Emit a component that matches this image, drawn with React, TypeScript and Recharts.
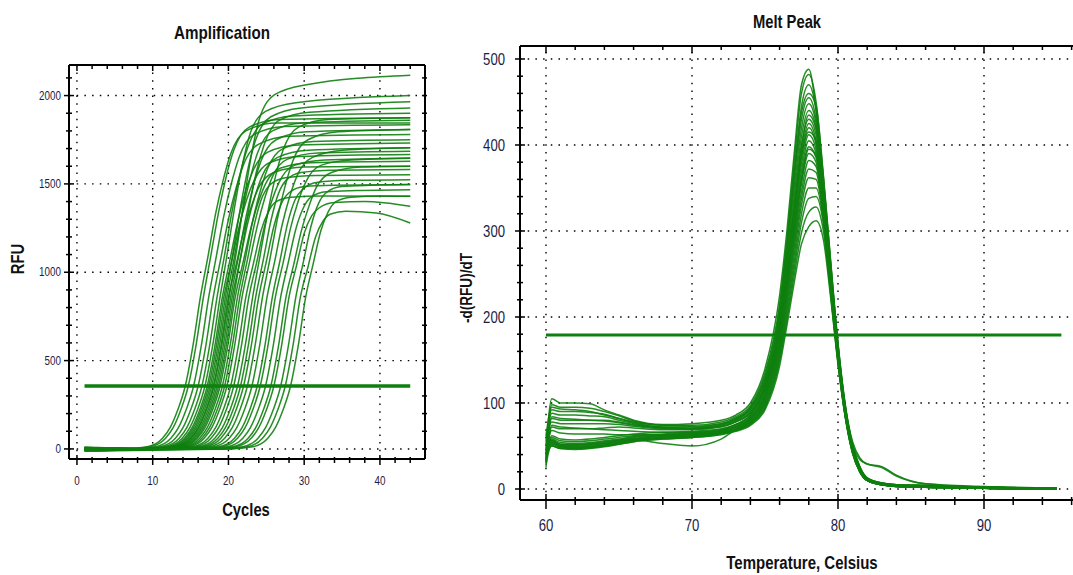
import React from 'react';
import { LineChart, Line, XAxis, YAxis, ReferenceLine } from 'recharts';

const FONT = '"Liberation Sans", Arial, sans-serif';
const NARROW = 0.82;
const GREEN = '#0e800e';
const TICK_COLOR = '#1c1c44';

// Amplification wells: [cycle, RFU] points
const ampCurvesEarly: number[][][] = [
  [[1,-8],[6.3,0],[9.3,12],[11.3,60],[12.3,120],[13.3,220],[14.3,356],[15.3,580],[16.3,860],[17.3,1090],[18.3,1330],[19.3,1520],[20.3,1670],[22.3,1800],[26.3,1845],[44,1845]],
  [[1,5],[6.7,0],[9.7,12],[11.7,60],[12.7,120],[13.7,220],[14.7,356],[15.7,580],[16.7,860],[17.7,1100],[18.7,1340],[19.7,1540],[20.7,1690],[22.7,1820],[26.7,1865],[44,1875]],
  [[1,-4],[7.4,0],[10.4,12],[12.4,60],[13.4,120],[14.4,220],[15.4,356],[16.4,580],[17.4,860],[18.4,1090],[19.4,1320],[20.4,1505],[21.4,1650],[23.4,1780],[27.4,1825],[44,1835]],
  [[1,10],[8,0],[11,12],[13,60],[14,120],[15,220],[16,356],[17,580],[18,860],[19,1080],[20,1300],[21,1475],[22,1610],[24,1725],[28,1770],[44,1780]],
  [[1,-12],[8.5,0],[11.5,12],[13.5,60],[14.5,120],[15.5,220],[16.5,356],[17.5,580],[18.5,860],[19.5,1100],[20.5,1350],[21.5,1550],[22.5,1700],[24.5,1840],[28.5,1885],[44,1900]],
  [[1,2],[8.9,0],[11.9,12],[13.9,60],[14.9,120],[15.9,220],[16.9,356],[17.9,580],[18.9,860],[19.9,1120],[20.9,1390],[21.9,1620],[22.9,1790],[24.9,1910],[28.9,1960],[44,2000]],
  [[1,-6],[9.2,0],[12.2,12],[14.2,60],[15.2,120],[16.2,220],[17.2,356],[18.2,580],[19.2,860],[20.2,1070],[21.2,1280],[22.2,1450],[23.2,1570],[25.2,1680],[29.2,1720],[44,1732]],
  [[1,7],[9.4,0],[12.4,12],[14.4,60],[15.4,120],[16.4,220],[17.4,356],[18.4,580],[19.4,860],[20.4,1055],[21.4,1255],[22.4,1410],[23.4,1520],[25.4,1620],[29.4,1655],[44,1666]],
  [[1,-10],[9.6,0],[12.6,12],[14.6,60],[15.6,120],[16.6,220],[17.6,356],[18.6,580],[19.6,860],[20.6,1110],[21.6,1370],[22.6,1590],[23.6,1750],[25.6,1880],[29.6,1930],[44,1965]],
  [[1,4],[9.8,0],[12.8,12],[14.8,60],[15.8,120],[16.8,220],[17.8,356],[18.8,580],[19.8,860],[20.8,1090],[21.8,1330],[22.8,1520],[23.8,1670],[25.8,1800],[29.8,1845],[44,1860]],
];

const ampCurvesMid: number[][][] = [
  [[1,-3],[10,0],[13,12],[15,60],[16,120],[17,220],[18,356],[19,580],[20,860],[21,1040],[22,1230],[23,1370],[24,1480],[26,1565],[30,1595],[44,1600]],
  [[1,8],[10.1,0],[13.1,12],[15.1,60],[16.1,120],[17.1,220],[18.1,356],[19.1,580],[20.1,860],[21.1,1130],[22.1,1420],[23.1,1680],[24.1,1870],[26.1,2005],[30.1,2060],[44,2115]],
  [[1,-7],[10.3,0],[13.3,12],[15.3,60],[16.3,120],[17.3,220],[18.3,356],[19.3,580],[20.3,860],[21.3,1080],[22.3,1310],[23.3,1490],[24.3,1630],[26.3,1750],[30.3,1795],[44,1808]],
  [[1,3],[10.5,0],[13.5,12],[15.5,60],[16.5,120],[17.5,220],[18.5,356],[19.5,580],[20.5,860],[21.5,1060],[22.5,1270],[23.5,1430],[24.5,1550],[26.5,1650],[30.5,1690],[44,1704]],
  [[1,-5],[10.7,0],[13.7,12],[15.7,60],[16.7,120],[17.7,220],[18.7,356],[19.7,580],[20.7,860],[21.7,1110],[22.7,1360],[23.7,1570],[24.7,1720],[26.7,1860],[30.7,1905],[44,1930]],
  [[1,6],[10.9,0],[13.9,12],[15.9,60],[16.9,120],[17.9,220],[18.9,356],[19.9,580],[20.9,860],[21.9,1050],[22.9,1240],[23.9,1390],[24.9,1500],[26.9,1590],[30.9,1620],[44,1628]],
  [[1,-9],[11.2,0],[14.2,12],[16.2,60],[17.2,120],[18.2,220],[19.2,356],[20.2,580],[21.2,860],[22.2,1070],[23.2,1290],[24.2,1460],[25.2,1590],[27.2,1700],[31.2,1740],[44,1750]],
  [[1,1],[11.5,0],[14.5,12],[16.5,60],[17.5,120],[18.5,220],[19.5,356],[20.5,580],[21.5,860],[22.5,1070],[23.5,1285],[24.5,1430],[25.5,1495],[27.5,1535],[31.5,1548],[44,1552]],
  [[1,-2],[11.8,0],[14.8,12],[16.8,60],[17.8,120],[18.8,220],[19.8,356],[20.8,580],[21.8,860],[22.8,1060],[23.8,1260],[24.8,1420],[25.8,1540],[27.8,1640],[31.8,1675],[44,1685]],
  [[1,9],[12.3,0],[15.3,12],[17.3,60],[18.3,120],[19.3,220],[20.3,356],[21.3,580],[22.3,860],[23.3,1050],[24.3,1235],[25.3,1345],[26.3,1400],[28.3,1425],[32.3,1432],[44,1430]],
  [[1,-11],[12.7,0],[15.7,12],[17.7,60],[18.7,120],[19.7,220],[20.7,356],[21.7,580],[22.7,860],[23.7,1050],[24.7,1250],[25.7,1400],[26.7,1510],[28.7,1605],[32.7,1635],[44,1647]],
  [[1,4],[13.2,0],[16.2,12],[18.2,60],[19.2,120],[20.2,220],[21.2,356],[22.2,580],[23.2,860],[24.2,1100],[25.2,1340],[26.2,1540],[27.2,1690],[29.2,1820],[33.2,1865],[44,1875]],
];

const ampCurvesLate: number[][][] = [
  [[1,-4],[13.6,0],[16.6,12],[18.6,60],[19.6,120],[20.6,220],[21.6,356],[22.6,580],[23.6,860],[24.6,1070],[25.6,1290],[26.6,1445],[27.6,1520],[29.6,1565],[33.6,1578],[44,1581]],
  [[1,7],[14,0],[17,12],[19,60],[20,120],[21,220],[22,356],[23,580],[24,860],[25,1060],[26,1260],[27,1390],[28,1450],[30,1485],[34,1492],[44,1496]],
  [[1,-6],[14.5,0],[17.5,12],[19.5,60],[20.5,120],[21.5,220],[22.5,356],[23.5,580],[24.5,860],[25.5,1080],[26.5,1310],[27.5,1490],[28.5,1630],[30.5,1750],[34.5,1795],[44,1808]],
  [[1,2],[15.1,0],[18.1,12],[20.1,60],[21.1,120],[22.1,220],[23.1,356],[24.1,580],[25.1,860],[26.1,1060],[27.1,1270],[28.1,1430],[29.1,1550],[31.1,1650],[35.1,1690],[44,1704]],
  [[1,-8],[15.8,0],[18.8,12],[20.8,60],[21.8,120],[22.8,220],[23.8,356],[24.8,580],[25.8,860],[26.8,1065],[27.8,1275],[28.8,1410],[29.8,1470],[31.8,1510],[35.8,1520],[44,1524]],
  [[1,5],[16.2,0],[19.2,12],[21.2,60],[22.2,120],[23.2,220],[24.2,356],[25.2,580],[26.2,860],[27.2,1050],[28.2,1250],[29.2,1400],[30.2,1510],[32.2,1605],[36.2,1635],[44,1645]],
  [[1,-3],[16.9,0],[19.9,12],[21.9,60],[22.9,120],[23.9,220],[24.9,356],[25.9,580],[26.9,860],[27.9,1055],[28.9,1245],[29.9,1365],[30.9,1425],[32.9,1455],[36.9,1462],[44,1467]],
  [[1,6],[17.6,0],[20.6,12],[22.6,60],[23.6,120],[24.6,220],[25.6,356],[26.6,580],[27.6,860],[28.6,1040],[29.6,1230],[30.6,1370],[31.6,1480],[33.6,1565],[37.6,1595],[44,1600]],
  [[1,-5],[18,0],[21,12],[23,60],[24,120],[25,220],[26,356],[27,580],[28,860],[29,1040],[30,1220],[31,1320],[32,1365],[34,1395],[38,1400],[44,1373]],
  [[1,3],[18.9,0],[21.9,12],[23.9,60],[24.9,120],[25.9,220],[26.9,356],[27.9,580],[28.9,860],[29.9,1060],[30.9,1260],[31.9,1390],[32.9,1450],[34.9,1485],[38.9,1492],[44,1496]],
  [[1,-10],[19.5,0],[22.5,12],[24.5,60],[25.5,120],[26.5,220],[27.5,356],[28.5,580],[29.5,860],[30.5,1030],[31.5,1200],[32.5,1290],[33.5,1330],[35.5,1345],[39.5,1335],[44,1279]],
  [[1,4],[20.2,0],[23.2,12],[25.2,60],[26.2,120],[27.2,220],[28.2,356],[29.2,580],[30.2,860],[31.2,1050],[32.2,1235],[33.2,1345],[34.2,1400],[36.2,1425],[40.2,1432],[44,1430]],
];

const ampThreshold = 356;
const ampThresholdCycles = [1, 44];
const cycleTicks = [0, 2, 4, 6, 8, 10, 12, 14, 16, 18, 20, 22, 24, 26, 28, 30, 32, 34, 36, 38, 40, 42, 44];
const rfuTicks = [0, 100, 200, 300, 400, 500, 600, 700, 800, 900, 1000, 1100, 1200, 1300, 1400, 1500, 1600, 1700, 1800, 1900, 2000, 2100];
const cycleGrid = [0, 10, 20, 30, 40];
const rfuGrid = [0, 500, 1000, 1500, 2000];

// Melt peak: -d(RFU)/dT at each temperature
const meltTemps = [60, 60.4, 61, 62, 63, 64, 65, 66, 68, 70, 72, 73, 74, 75, 76, 76.5, 77, 77.5, 78, 78.5, 79, 79.5, 80, 80.5, 81, 81.5, 82, 83, 84, 86, 90, 95];

const meltCurvesUpper: number[][] = [
  [45, 105, 100, 100, 99, 92, 86, 80, 75, 76, 80, 86, 100, 140, 225, 300, 390, 470, 488, 440, 350, 255, 165, 95, 50, 25, 13, 7, 5, 4, 2, 1],
  [40, 98, 95, 95, 94, 90, 85, 79, 74, 74, 78, 84, 97, 135, 215, 290, 380, 460, 482, 450, 365, 265, 170, 98, 52, 26, 13, 7, 5, 4, 2, 1],
  [55, 92, 90, 90, 89, 87, 82, 77, 72, 72, 76, 82, 95, 132, 210, 285, 370, 445, 470, 440, 360, 262, 168, 96, 50, 25, 12, 7, 5, 4, 2, 1],
  [50, 88, 86, 86, 85, 84, 80, 76, 72, 71, 75, 81, 93, 128, 205, 275, 360, 430, 455, 430, 355, 258, 165, 94, 49, 24, 12, 6, 5, 3, 2, 1],
  [35, 82, 80, 80, 80, 80, 78, 75, 71, 70, 74, 80, 92, 125, 200, 270, 350, 420, 448, 425, 350, 255, 165, 95, 55, 36, 29, 26, 16, 6, 3, 1],
  [60, 78, 76, 76, 76, 76, 75, 73, 70, 70, 73, 79, 90, 122, 195, 262, 340, 410, 440, 420, 345, 250, 160, 92, 48, 24, 12, 6, 4, 3, 2, 1],
  [30, 72, 70, 70, 70, 71, 72, 71, 69, 69, 72, 78, 88, 120, 190, 255, 330, 400, 430, 412, 340, 248, 160, 92, 47, 23, 11, 6, 4, 3, 2, 1],
  [62, 95, 93, 92, 90, 86, 82, 78, 74, 73, 76, 82, 94, 128, 205, 278, 365, 438, 460, 445, 362, 262, 168, 96, 50, 25, 12, 7, 5, 4, 2, 1],
  [33, 84, 82, 81, 80, 79, 77, 74, 71, 70, 73, 78, 89, 120, 190, 255, 325, 388, 415, 405, 338, 246, 158, 90, 46, 22, 11, 6, 4, 3, 2, 1],
  [25, 74, 72, 71, 70, 69, 68, 67, 66, 66, 69, 75, 86, 118, 188, 252, 326, 398, 435, 418, 342, 248, 160, 92, 47, 23, 11, 6, 4, 3, 2, 1],
];

const meltCurvesLower: number[][] = [
  [38, 62, 58, 57, 58, 60, 62, 64, 66, 67, 70, 75, 86, 118, 188, 250, 322, 392, 425, 405, 335, 245, 158, 90, 46, 22, 11, 6, 4, 3, 2, 0],
  [42, 60, 56, 55, 56, 58, 60, 62, 64, 66, 69, 74, 84, 115, 185, 248, 318, 385, 420, 400, 332, 243, 157, 90, 46, 22, 11, 6, 4, 3, 1, 0],
  [48, 58, 54, 53, 54, 56, 58, 61, 63, 65, 68, 73, 83, 113, 182, 244, 312, 378, 412, 395, 330, 242, 156, 89, 45, 22, 11, 6, 4, 3, 1, 0],
  [52, 57, 52, 52, 53, 55, 57, 60, 62, 64, 67, 72, 82, 110, 178, 240, 306, 370, 405, 390, 328, 240, 155, 88, 45, 21, 10, 5, 4, 3, 1, 0],
  [34, 56, 51, 51, 52, 54, 57, 59, 62, 64, 67, 72, 81, 108, 175, 236, 300, 362, 398, 385, 325, 238, 154, 87, 44, 21, 10, 5, 4, 3, 1, 0],
  [58, 55, 50, 50, 51, 53, 56, 58, 61, 63, 66, 71, 80, 106, 172, 230, 292, 355, 390, 380, 322, 236, 152, 86, 44, 21, 10, 5, 4, 2, 1, 0],
  [45, 54, 50, 49, 50, 52, 55, 58, 60, 62, 66, 70, 79, 104, 168, 225, 286, 346, 382, 375, 320, 235, 151, 86, 43, 20, 10, 5, 3, 2, 1, 0],
  [28, 52, 49, 48, 49, 51, 54, 57, 53, 50, 58, 69, 78, 102, 164, 220, 280, 338, 372, 368, 318, 234, 150, 85, 43, 20, 10, 5, 3, 2, 1, 0],
  [50, 53, 49, 48, 49, 51, 53, 56, 59, 61, 65, 69, 77, 100, 160, 214, 272, 330, 362, 360, 315, 232, 149, 85, 43, 20, 10, 5, 3, 2, 1, 0],
  [40, 56, 52, 51, 52, 53, 55, 57, 60, 62, 65, 69, 77, 98, 156, 208, 264, 320, 350, 350, 312, 230, 150, 90, 52, 34, 29, 25, 15, 6, 2, 0],
  [55, 51, 48, 47, 48, 50, 53, 56, 59, 61, 64, 68, 76, 96, 152, 202, 256, 310, 338, 340, 308, 228, 148, 84, 42, 20, 10, 5, 3, 2, 1, 0],
  [36, 50, 47, 47, 48, 50, 52, 55, 58, 60, 64, 68, 75, 94, 148, 196, 248, 298, 322, 328, 300, 226, 147, 84, 42, 20, 10, 5, 3, 2, 1, 0],
  [47, 50, 47, 46, 47, 49, 52, 55, 58, 60, 63, 67, 74, 92, 143, 190, 240, 285, 305, 312, 290, 222, 145, 83, 41, 20, 10, 5, 3, 2, 1, 0],
  [44, 68, 65, 64, 64, 64, 63, 63, 63, 64, 67, 72, 82, 110, 176, 236, 300, 360, 395, 388, 328, 240, 155, 88, 44, 21, 10, 5, 4, 3, 1, 0],
];

const meltThreshold = 179;
const meltThresholdTemps = [60, 95.3];
const tempTicks = [60, 62, 64, 66, 68, 70, 72, 74, 76, 78, 80, 82, 84, 86, 88, 90, 92, 94, 96];
const dfTicks = [0, 20, 40, 60, 80, 100, 120, 140, 160, 180, 200, 220, 240, 260, 280, 300, 320, 340, 360, 380, 400, 420, 440, 460, 480, 500];
const tempGrid = [60, 70, 80, 90];
const dfGrid = [0, 100, 200, 300, 400, 500];

const ampSeries = [...ampCurvesEarly, ...ampCurvesMid, ...ampCurvesLate].map((c) => c.map(([x, y]) => ({ x, y })));
const meltSeries = [...meltCurvesUpper, ...meltCurvesLower].map((vals) => vals.map((y, i) => ({ x: meltTemps[i], y })));
const ampThresholdData = ampThresholdCycles.map((x) => ({ x, y: ampThreshold }));
const meltThresholdData = meltThresholdTemps.map((x) => ({ x, y: meltThreshold }));

const axisLine = { stroke: '#000', strokeWidth: 2 };
const gridProps = { stroke: '#000', strokeWidth: 1.4, strokeDasharray: '1.5 6.2' };

// narrow tick label: Liberation Sans squeezed horizontally
const TickText = ({ x, y, size, anchor, children }: any) => (
  <text transform={`translate(${x} ${y}) scale(${NARROW} 1)`} textAnchor={anchor} fontSize={size}
    fontFamily={FONT} fill={TICK_COLOR}>
    {children}
  </text>
);

// tick renderers: tickSize/tickMargin are 0, so x,y sit on the axis line
const ampBottomTick = ({ x, y, payload }: any) => {
  const major = payload.value % 10 === 0;
  return (
    <g>
      <line x1={x} x2={x} y1={y - (major ? 4 : 2)} y2={y + (major ? 6 : 4)} stroke="#000" strokeWidth={1.5} />
      {major && <TickText x={x} y={y + 26} size={12} anchor="middle">{payload.value}</TickText>}
    </g>
  );
};
const ampTopTick = ({ x, y, payload }: any) => {
  const major = payload.value % 10 === 0;
  return <line x1={x} x2={x} y1={y} y2={y + (major ? 6 : 4)} stroke="#000" strokeWidth={1.5} />;
};
const ampLeftTick = ({ x, y, payload }: any) => {
  const major = payload.value % 500 === 0;
  return (
    <g>
      <line x1={x - (major ? 5 : 3)} x2={x + (major ? 5 : 3)} y1={y} y2={y} stroke="#000" strokeWidth={1.5} />
      {major && <TickText x={x - 8} y={y + 4} size={12} anchor="end">{payload.value}</TickText>}
    </g>
  );
};
const ampRightTick = ({ x, y }: any) => (
  <line x1={x - 3} x2={x + 2} y1={y} y2={y} stroke="#000" strokeWidth={1.5} />
);

const meltBottomTick = ({ x, y, payload }: any) => {
  const major = payload.value % 10 === 0;
  return (
    <g>
      <line x1={x} x2={x} y1={y - (major ? 6 : 3)} y2={y + (major ? 9 : 5)} stroke="#000" strokeWidth={1.5} />
      {major && <TickText x={x} y={y + 31} size={16} anchor="middle">{payload.value}</TickText>}
    </g>
  );
};
const meltTopTick = ({ x, y, payload }: any) => {
  const major = payload.value % 10 === 0;
  return <line x1={x} x2={x} y1={y} y2={y + (major ? 7 : 4)} stroke="#000" strokeWidth={1.5} />;
};
const meltLeftTick = ({ x, y, payload }: any) => {
  const major = payload.value % 100 === 0;
  return (
    <g>
      <line x1={x - (major ? 5 : 3)} x2={x + (major ? 5 : 3)} y1={y} y2={y} stroke="#000" strokeWidth={1.5} />
      {major && <TickText x={x - 15} y={y + 6} size={16} anchor="end">{payload.value}</TickText>}
    </g>
  );
};

const label = (left: number, top: number, size: number, text: string, rotate = false) => (
  <div
    style={{
      position: 'absolute',
      left,
      top,
      transform: `translate(-50%, -50%)${rotate ? ' rotate(-90deg)' : ''} scaleX(${NARROW})`,
      fontFamily: FONT,
      fontWeight: 'bold',
      fontSize: size,
      lineHeight: 1,
      color: '#111',
      whiteSpace: 'nowrap',
    }}
  >
    {text}
  </div>
);

const App: React.FC = () => {
  return (
    <div style={{ position: 'absolute', left: 0, top: 0, width: 1073, height: 575, overflow: 'hidden', background: '#fff' }}>
      {/* Amplification */}
      <div style={{ position: 'absolute', left: 0, top: 0 }}>
        <LineChart width={440} height={575} margin={{ top: 64, right: 14, bottom: 115, left: 68 }}>
          <XAxis dataKey="x" type="number" domain={[-1.05, 45.95]} allowDataOverflow ticks={cycleTicks} interval={0}
            height={1} tickSize={0} tickMargin={0} tickLine={false} axisLine={axisLine} tick={ampBottomTick} />
          <XAxis xAxisId="top" orientation="top" dataKey="x" type="number" domain={[-1.05, 45.95]} allowDataOverflow ticks={cycleTicks}
            interval={0} height={1} tickSize={0} tickMargin={0} tickLine={false} axisLine={axisLine} tick={ampTopTick} />
          <YAxis type="number" domain={[-57, 2173]} allowDataOverflow ticks={rfuTicks} interval={0}
            width={1} tickSize={0} tickMargin={0} tickLine={false} axisLine={axisLine} tick={ampLeftTick} />
          <YAxis yAxisId="right" orientation="right" type="number" domain={[-57, 2173]} allowDataOverflow ticks={rfuTicks}
            interval={0} width={1} tickSize={0} tickMargin={0} tickLine={false} axisLine={axisLine} tick={ampRightTick} />
          {cycleGrid.map((v) => <ReferenceLine key={'cx' + v} x={v} {...gridProps} />)}
          {rfuGrid.map((v) => <ReferenceLine key={'cy' + v} y={v} {...gridProps} />)}
          {ampSeries.map((pts, i) => (
            <Line key={'a' + i} data={pts} dataKey="y" type="monotone" stroke={GREEN} strokeWidth={1.5}
              strokeOpacity={0.9} dot={false} activeDot={false} isAnimationActive={false} />
          ))}
          <Line data={ampThresholdData} dataKey="y" stroke={GREEN} strokeWidth={3.5} dot={false} activeDot={false}
            isAnimationActive={false} />
        </LineChart>
      </div>

      {/* Melt Peak */}
      <div style={{ position: 'absolute', left: 440, top: 0 }}>
        <LineChart width={650} height={575} margin={{ top: 45, right: 0, bottom: 74, left: 79 }}>
          <XAxis dataKey="x" type="number" domain={[58.22, 97.26]} allowDataOverflow ticks={tempTicks} interval={0}
            height={1} tickSize={0} tickMargin={0} tickLine={false} axisLine={axisLine} tick={meltBottomTick} />
          <XAxis xAxisId="top" orientation="top" dataKey="x" type="number" domain={[58.22, 97.26]} allowDataOverflow
            ticks={tempTicks} interval={0} height={1} tickSize={0} tickMargin={0} tickLine={false} axisLine={axisLine}
            tick={meltTopTick} />
          <YAxis type="number" domain={[-12.8, 515.1]} allowDataOverflow ticks={dfTicks} interval={0}
            width={1} tickSize={0} tickMargin={0} tickLine={false} axisLine={axisLine} tick={meltLeftTick} />
          {tempGrid.map((v) => <ReferenceLine key={'tx' + v} x={v} {...gridProps} />)}
          {dfGrid.map((v) => <ReferenceLine key={'ty' + v} y={v} {...gridProps} />)}
          {meltSeries.map((pts, i) => (
            <Line key={'m' + i} data={pts} dataKey="y" type="monotone" stroke={GREEN} strokeWidth={1.5}
              strokeOpacity={0.9} dot={false} activeDot={false} isAnimationActive={false} />
          ))}
          <Line data={meltThresholdData} dataKey="y" stroke={GREEN} strokeWidth={3} dot={false} activeDot={false}
            isAnimationActive={false} />
        </LineChart>
      </div>

      {label(222, 33, 18.5, 'Amplification')}
      {label(246, 510, 18, 'Cycles')}
      {label(18, 259, 18, 'RFU', true)}
      {label(787, 22, 18, 'Melt Peak')}
      {label(802, 563, 18.3, 'Temperature, Celsius')}
      {label(466, 288, 16.5, '-d(RFU)/dT', true)}
    </div>
  );
};

export default App;
